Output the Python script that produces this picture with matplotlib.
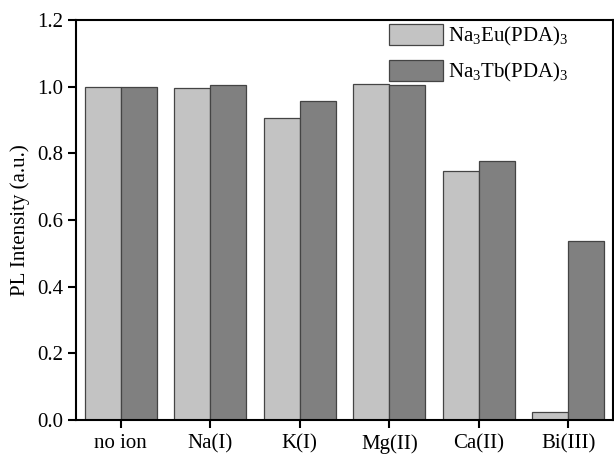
import numpy as np
import matplotlib
matplotlib.use("Agg")
import matplotlib.pyplot as plt

# data
ions = ["no ion", "Na(I)", "K(I)", "Mg(II)", "Ca(II)", "Bi(III)"]
eu_vals = [1.000, 0.997, 0.907, 1.008, 0.747, 0.025]
tb_vals = [1.000, 1.005, 0.958, 1.005, 0.777, 0.538]
yticks = [0.0, 0.2, 0.4, 0.6, 0.8, 1.0, 1.2]

plt.rcParams["font.family"] = ["Liberation Serif", "DejaVu Serif"]
plt.rcParams["mathtext.fontset"] = "custom"
plt.rcParams["mathtext.rm"] = "Liberation Serif"
plt.rcParams["font.size"] = 15

fig = plt.figure(figsize=(6.14, 4.57), dpi=100)
ax = fig.add_axes([76 / 614, 1 - 420 / 457, 537 / 614, 400 / 457])

x = np.arange(len(ions))
w = 0.4
ax.bar(x - w / 2, eu_vals, w, color="#c3c3c3", edgecolor="#444444", linewidth=0.9,
       label=r"$\mathregular{Na_3Eu(PDA)_3}$")
ax.bar(x + w / 2, tb_vals, w, color="#808080", edgecolor="#444444", linewidth=0.9,
       label=r"$\mathregular{Na_3Tb(PDA)_3}$")

ax.set_xlim(-0.5, len(ions) - 0.5)
ax.set_ylim(0, 1.2)
ax.set_xticks(x)
ax.set_xticklabels(ions)
ax.set_yticks(yticks)
ax.set_yticklabels(["%.1f" % v for v in yticks])
ax.set_ylabel("PL Intensity (a.u.)", fontsize=15, labelpad=5)

for s in ax.spines.values():
    s.set_linewidth(1.5)
ax.tick_params(axis="both", direction="out", length=6, width=1.5, labelsize=15)
ax.tick_params(axis="x", pad=4)
ax.tick_params(axis="y", pad=3)

ax.legend(loc="upper left", bbox_to_anchor=(311 / 537, 0.995), frameon=False,
          fontsize=15, handlelength=2.6, handleheight=1.15, labelspacing=0.6,
          handletextpad=0.25, borderaxespad=0.0, borderpad=0.1)

fig.savefig("out.png", dpi=100)
